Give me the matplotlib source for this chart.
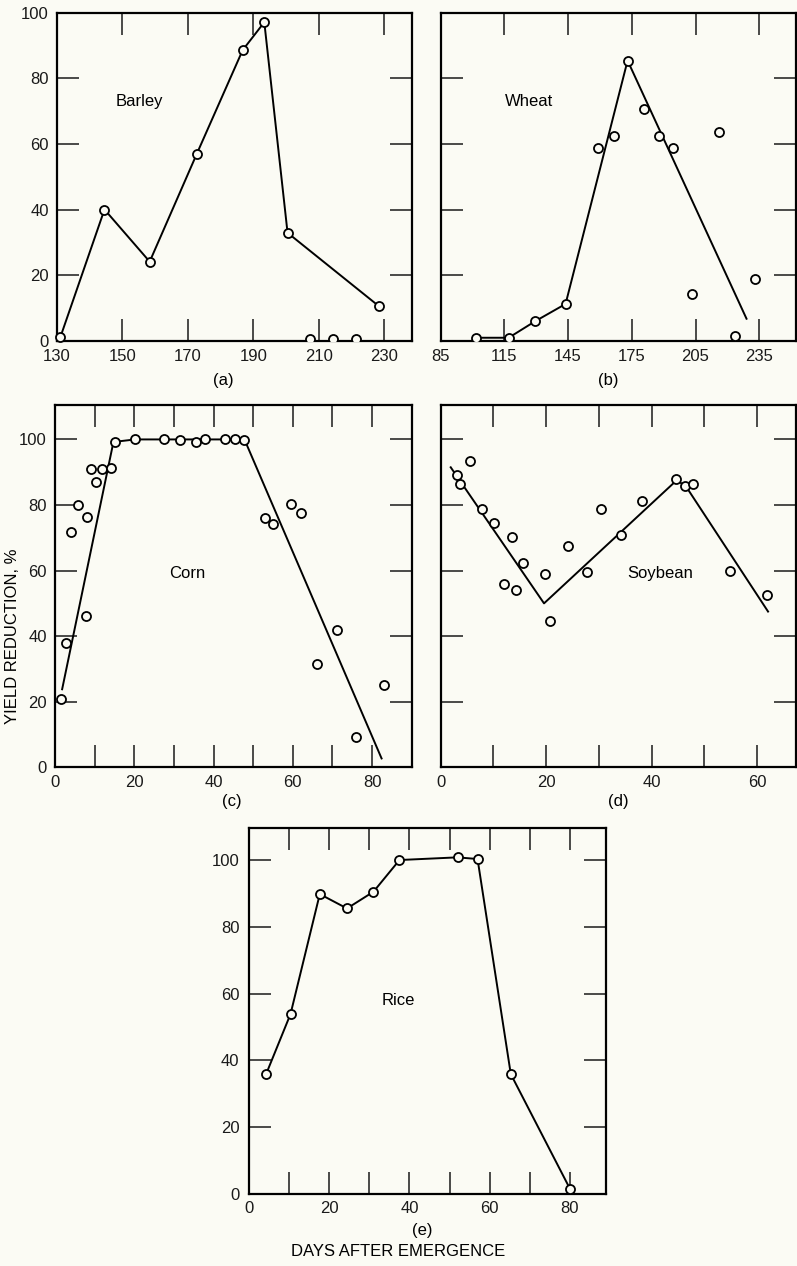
import numpy as np
import matplotlib
matplotlib.use("Agg")
import matplotlib.pyplot as plt

plt.rcParams['font.family'] = ['Liberation Sans', 'DejaVu Sans']

BG = '#fbfbf4'
FS = 12

# --- data (days after emergence, yield reduction %) ---
barley_x = [131, 144.5, 158.3, 172.7, 186.7, 193.3, 200.4, 228.2]
barley_y = [1.0, 40.0, 24.1, 57.0, 88.6, 97.1, 32.9, 10.6]
barley_zero_x = [207.4, 214.2, 221.4]
barley_zero_y = [0.6, 0.6, 0.6]

wheat_x = [101.6, 117.0, 129.4, 143.8, 159.2, 166.6, 173.0, 180.7, 187.8, 194.2,
           215.9, 203.2, 233.1, 223.6]
wheat_y = [0.9, 0.9, 5.9, 11.2, 58.6, 62.4, 85.4, 70.7, 62.5, 58.9,
           63.5, 14.1, 18.8, 1.3]
wheat_fit_x = [101.6, 117.0, 129.4, 143.8, 173.0, 229.0]
wheat_fit_y = [0.9, 0.9, 5.9, 11.2, 85.4, 6.7]

corn_x = [1.4, 2.8, 4.0, 5.7, 8.2, 7.8, 9.1, 10.4, 11.9, 14.2, 15.1, 20.2, 27.6,
          31.6, 35.6, 37.9, 42.9, 45.3, 47.6, 52.9, 55.0, 59.5, 62.1, 66.1, 71.2,
          76.0, 83.0]
corn_y = [20.7, 38.0, 71.8, 80.1, 76.2, 46.1, 91.0, 87.0, 91.0, 91.3, 99.3, 100,
          100, 99.8, 99.3, 100, 100.2, 100.2, 99.8, 76.1, 74.1, 80.2, 77.6, 31.5,
          41.9, 9.3, 25.2]
corn_fit_x = [1.8, 14.5, 15.3, 20.2, 47.8, 82.4]
corn_fit_y = [23.8, 97.8, 99.3, 100, 100, 2.7]

soy_x = [3.0, 3.7, 5.5, 7.9, 10.1, 13.5, 15.7, 12.0, 14.2, 19.8, 20.8, 24.2, 27.8,
         30.4, 34.2, 38.1, 44.6, 46.3, 47.9, 54.9, 61.9]
soy_y = [89.0, 86.4, 93.5, 78.9, 74.6, 70.3, 62.2, 55.8, 54.1, 58.9, 44.7, 67.4,
         59.5, 78.7, 70.8, 81.3, 88.0, 85.9, 86.5, 60.0, 52.7]
soy_fit_x = [1.9, 19.6, 44.8, 46.6, 62.1]
soy_fit_y = [91.5, 50.0, 87.6, 85.5, 47.5]

rice_x = [4.2, 10.3, 17.6, 24.4, 31.0, 37.5, 52.0, 57.0, 65.3, 80.1]
rice_y = [35.9, 53.9, 89.8, 85.5, 90.5, 100, 100.8, 100.3, 35.9, 1.5]

fig = plt.figure(figsize=(7.97, 12.66), dpi=100)
fig.patch.set_facecolor(BG)

W, H = 797.0, 1266.0


def add_ax(left, top, right, bottom, xpad, ypad):
    ax = fig.add_axes([left / W, 1 - bottom / H, (right - left) / W, (bottom - top) / H])
    ax.set_facecolor(BG)
    for s in ax.spines.values():
        s.set_linewidth(1.6)
    ax.tick_params(axis='both', direction='in', length=16, width=1.1,
                   top=True, right=True, labelsize=FS, colors='#1a1a1a')
    ax.tick_params(axis='x', pad=xpad)
    ax.tick_params(axis='y', pad=ypad)
    return ax


def labels_every(ticks, step):
    return [str(t) if (t - ticks[0]) % step == 0 else '' for t in ticks]


mk = dict(marker='o', ms=6.5, mfc=BG, mec='black', mew=1.3, ls='none', zorder=3)
ln = dict(color='black', lw=1.4, zorder=2)

# (a) Barley
ax = add_ax(57, 12.7, 412, 340.7, 5.8, 5.8)
ax.plot(barley_x, barley_y, **ln)
ax.plot(barley_x, barley_y, clip_on=False, **mk)
ax.plot(barley_zero_x, barley_zero_y, **mk)
ax.set_xlim(130, 238.4)
ax.set_ylim(0, 100)
ax.set_xticks(range(130, 231, 20))
ax.set_yticks(range(0, 101, 20))
ax.text(155.3, 72.8, 'Barley', ha='center', va='center', fontsize=FS)

# (b) Wheat
ax = add_ax(440.7, 12.7, 796, 340.7, 5.8, 5.8)
ax.plot(wheat_fit_x, wheat_fit_y, **ln)
ax.plot(wheat_x, wheat_y, **mk)
ax.set_xlim(85, 252.3)
ax.set_ylim(0, 100)
ax.set_xticks(range(85, 236, 30))
ax.set_yticks(range(0, 101, 20))
ax.set_yticklabels([])
ax.text(126.5, 73, 'Wheat', ha='center', va='center', fontsize=FS)

# (c) Corn
ax = add_ax(55, 405, 411.7, 767.3, 5.5, 6)
ax.plot(corn_fit_x, corn_fit_y, **ln)
ax.plot(corn_x, corn_y, clip_on=False, **mk)
ax.set_xlim(0, 90)
ax.set_ylim(0, 110.5)
xt = list(range(0, 91, 10))
ax.set_xticks(xt)
ax.set_xticklabels([l if t <= 80 else '' for t, l in zip(xt, labels_every(xt, 20))])
ax.set_yticks(range(0, 101, 20))
ax.text(33.3, 59.1, 'Corn', ha='center', va='center', fontsize=FS)

# (d) Soybean
ax = add_ax(440.7, 405, 796, 767.3, 5.8, 6)
ax.plot(soy_fit_x, soy_fit_y, **ln)
ax.plot(soy_x, soy_y, **mk)
ax.set_xlim(0, 67.4)
ax.set_ylim(0, 110.5)
xt = list(range(0, 61, 10))
ax.set_xticks(xt)
ax.set_xticklabels(labels_every(xt, 20))
ax.set_yticks(range(0, 101, 20))
ax.set_yticklabels([])
ax.text(41.7, 59.1, 'Soybean', ha='center', va='center', fontsize=FS)

# (e) Rice
ax = add_ax(249.3, 828.3, 605.7, 1194, 5, 7)
ax.plot(rice_x, rice_y, **ln)
ax.plot(rice_x, rice_y, clip_on=False, **mk)
ax.set_xlim(0, 89)
ax.set_ylim(0, 109.5)
xt = list(range(0, 81, 10))
ax.set_xticks(xt)
ax.set_xticklabels(labels_every(xt, 20))
ax.set_yticks(range(0, 101, 20))
ax.text(37.1, 57.9, 'Rice', ha='center', va='center', fontsize=FS)

# panel letters and shared axis titles
for lab, px, py in [('(a)', 223, 381), ('(b)', 608, 381), ('(c)', 232, 801.7),
                    ('(d)', 618, 801.7), ('(e)', 422.7, 1230.7)]:
    fig.text(px / W, 1 - py / H, lab, ha='center', va='center', fontsize=FS)

fig.text(13 / W, 1 - 636 / H, 'YIELD REDUCTION, %', rotation=90,
         ha='center', va='center', fontsize=FS)
fig.text(398 / W, 1 - 1251.7 / H, 'DAYS AFTER EMERGENCE',
         ha='center', va='center', fontsize=FS)

fig.savefig('out.png', dpi=100, facecolor=BG)
